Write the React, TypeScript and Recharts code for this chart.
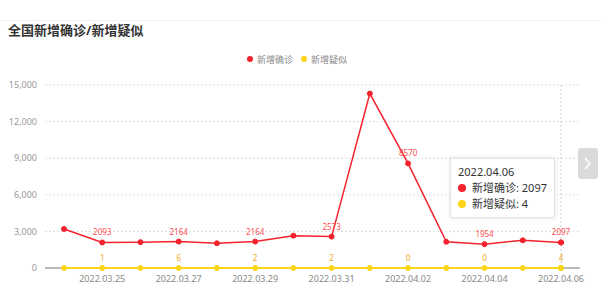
import { LineChart, Line, XAxis, YAxis, CartesianGrid, Tooltip, LabelList } from "recharts"

const dates = [
  "2022.03.24", "2022.03.25", "2022.03.26", "2022.03.27", "2022.03.28", "2022.03.29", "2022.03.30",
  "2022.03.31", "2022.04.01", "2022.04.02", "2022.04.03", "2022.04.04", "2022.04.05", "2022.04.06",
]
const confirmed = [3200, 2093, 2120, 2164, 2030, 2164, 2650, 2573, 14300, 8570, 2150, 1954, 2270, 2097]
const suspected = [2, 1, 3, 6, 1, 2, 3, 2, 1, 0, 1, 0, 2, 4]
const yTicks = [0, 3000, 6000, 9000, 12000, 15000]

const RED = "#f5222d"
const YELLOW = "#fcd418"
const FONT = '"Noto Sans", "Noto Sans CJK SC", sans-serif'

const data = dates.map((d, i) => ({ date: d, confirmed: confirmed[i], suspected: suspected[i] }))

function pointLabel(color: string) {
  return (props: any) => {
    const { x, y, value, index } = props
    if (index % 2 !== 1) return null
    return (
      <text x={x} y={y - 7} textAnchor="middle" fontSize={8} fill={color} fontFamily={FONT}>
        {value}
      </text>
    )
  }
}

// grid lines; the bottom one doubles as the x axis line, kept under the series
function gridLine(props: any) {
  const { x1, x2, y1, y2, index } = props
  if (index === 0 || y1 > 265) {
    return <line key={"g" + index} x1={x1} x2={x2} y1={y1} y2={y2} stroke="#777" strokeWidth={1} />
  }
  return <line key={"g" + index} x1={x1} x2={x2} y1={y1} y2={y2} stroke="#ddd" strokeDasharray="2 2" />
}

function TipBox({ active }: any) {
  if (!active) return null
  const i = dates.length - 1
  const row = (color: string, text: string) => (
    <div style={{ display: "flex", alignItems: "center", marginTop: 2 }}>
      <span style={{ width: 8, height: 8, borderRadius: 4, background: color, display: "inline-block", marginRight: 6 }} />
      <span>{text}</span>
    </div>
  )
  return (
    <div
      style={{
        background: "#fff",
        border: "1px solid #e4e4e4",
        boxShadow: "0 0 4px rgba(0,0,0,0.12)",
        padding: "6px 7px",
        whiteSpace: "nowrap",
        fontSize: 11,
        lineHeight: "14px",
        color: "#333",
        fontFamily: FONT,
      }}
    >
      <div style={{ marginBottom: 1 }}>{dates[i]}</div>
      {row(RED, `新增确诊: ${confirmed[i]}`)}
      {row(YELLOW, `新增疑似: ${suspected[i]}`)}
    </div>
  )
}

function LegendBox() {
  const item = (color: string, text: string) => (
    <span style={{ display: "inline-flex", alignItems: "center", marginRight: 8 }}>
      <span style={{ width: 6, height: 6, borderRadius: 3, background: color, display: "inline-block", marginRight: 4 }} />
      <span>{text}</span>
    </span>
  )
  return (
    <div style={{ position: "absolute", left: 0, top: 52, width: 602, textAlign: "center", fontSize: 9, color: "#888", fontFamily: FONT }}>
      {item(RED, "新增确诊")}
      {item(YELLOW, "新增疑似")}
    </div>
  )
}

export default function App() {
  return (
    <div style={{ position: "fixed", left: 0, top: 0, width: 602, height: 297, background: "#fff", fontFamily: FONT }}>
      <div style={{ position: "absolute", left: 0, top: 20, width: 602, height: 1, background: "#f2f2f2" }} />
      <div style={{ position: "absolute", left: 8, top: 20, fontSize: 13, fontWeight: "bold", color: "#333" }}>
        全国新增确诊/新增疑似
      </div>
      <LegendBox />
      <LineChart width={602} height={297} data={data} margin={{ top: 85, right: 22, bottom: 9, left: 0 }}>
        <CartesianGrid vertical={false} horizontal={gridLine} />
        <XAxis
          dataKey="date"
          interval={0}
          padding={{ left: 19, right: 19 }}
          tickLine={false}
          axisLine={false}
          height={20}
          tick={{ fontSize: 9, fill: "#888", fontFamily: FONT }}
          tickFormatter={(v: string, i: number) => (i % 2 === 1 ? v : "")}
        />
        <YAxis
          width={45}
          domain={[0, 15000]}
          ticks={yTicks}
          tickLine={false}
          axisLine={false}
          tick={{ fontSize: 9, fill: "#999", fontFamily: FONT }}
          tickFormatter={(v: number) => v.toLocaleString("en-US")}
        />
        <Tooltip
          active={true}
          defaultIndex={13}
          content={<TipBox />}
          position={{ x: 450, y: 158 }}
          cursor={{ stroke: "#ccc", strokeDasharray: "2 2" }}
          isAnimationActive={false}
        />
        <Line
          dataKey="suspected"
          stroke={YELLOW}
          strokeWidth={2}
          dot={{ r: 2.5, fill: YELLOW, stroke: YELLOW, strokeWidth: 1 }}
          activeDot={{ r: 2.5, fill: YELLOW, stroke: YELLOW, strokeWidth: 1 }}
          isAnimationActive={false}
        >
          <LabelList dataKey="suspected" content={pointLabel("#f2a81d")} />
        </Line>
        <Line
          dataKey="confirmed"
          stroke={RED}
          strokeWidth={1.5}
          dot={{ r: 2.5, fill: RED, stroke: RED, strokeWidth: 1 }}
          activeDot={{ r: 2.5, fill: RED, stroke: RED, strokeWidth: 1 }}
          isAnimationActive={false}
        >
          <LabelList dataKey="confirmed" content={pointLabel("#ff4d4f")} />
        </Line>
      </LineChart>
      <div
        style={{
          position: "absolute",
          left: 578,
          top: 148,
          width: 20,
          height: 31,
          background: "#dadada",
          borderRadius: 3,
        }}
      >
        <svg width={20} height={31} style={{ display: "block" }}>
          <path d="M7 10 L12 15.5 L7 21" fill="none" stroke="#fff" strokeWidth={1.5} />
        </svg>
      </div>
    </div>
  )
}
